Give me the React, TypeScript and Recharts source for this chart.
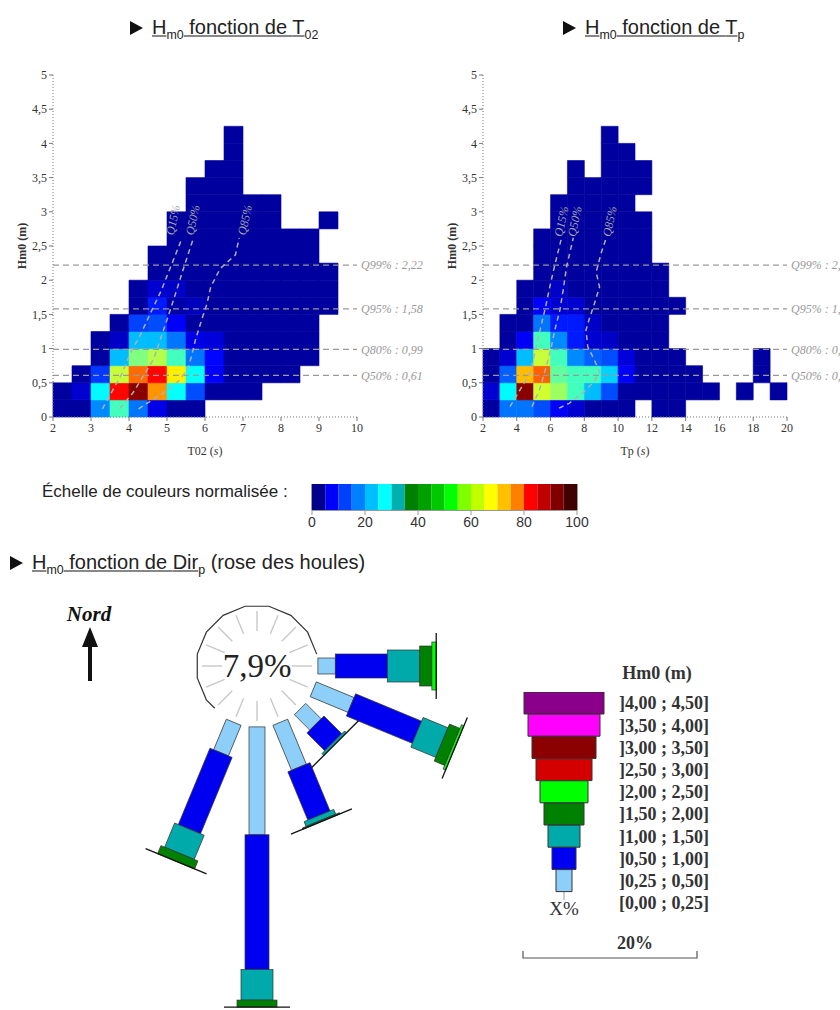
import React from "react";
import {
  ScatterChart,
  Scatter,
  XAxis,
  YAxis,
  ReferenceArea,
  ReferenceLine,
  BarChart,
  Bar,
  Cell,
} from "recharts";

const SERIF = "'Liberation Serif', 'Times New Roman', serif";
const SANS = "'Liberation Sans', Arial, sans-serif";
const _ = null;

// ---- heatmap bins (cell edges) ----
const T02_EDGES = [2, 2.5, 3, 3.5, 4, 4.5, 5, 5.5, 6, 6.5, 7, 7.5, 8, 8.5, 9, 9.5, 10];
const TP_EDGES = [2, 3, 4, 5, 6, 7, 8, 9, 10, 11, 12, 13, 14, 15, 16, 17, 18, 19, 20];
const HM0_EDGES = [0, 0.25, 0.5, 0.75, 1, 1.25, 1.5, 1.75, 2, 2.25, 2.5, 2.75, 3, 3.25, 3.5, 3.75, 4, 4.25];

const T02_TICKS = [2, 3, 4, 5, 6, 7, 8, 9, 10];
const TP_TICKS = [2, 4, 6, 8, 10, 12, 14, 16, 18, 20];
const HM0_TICKS = [0, 0.5, 1, 1.5, 2, 2.5, 3, 3.5, 4, 4.5, 5];

// normalised occurrence (0-100), one row per Hm0 bin, one column per T02 bin
const T02_GRID = [
  [3, 3, 26, 44, 24, 10, 3, 3, _, _, _, _, _, _, _, _],
  [3, 8, 37, 87, 99, 73, 38, 20, 3, 3, 3, _, _, _, _, _],
  [_, 3, 18, 57, 77, 87, 64, 38, 12, 3, 3, 3, 3, _, _, _],
  [_, _, 3, 31, 50, 55, 44, 24, 13, 3, 3, 3, 3, 3, _, _],
  [_, _, 3, 7, 31, 31, 24, 10, 9, 3, 3, 3, 3, 3, _, _],
  [_, _, _, 3, 19, 20, 12, 3, 3, 3, 3, 3, 3, 3, _, _],
  [_, _, _, _, 3, 15, 4, 6, 3, 3, 3, 3, 3, 3, 3, _],
  [_, _, _, _, 3, 8, 7, 3, 3, 3, 3, 3, 3, 3, 3, _],
  [_, _, _, _, _, 3, 3, 3, 3, 3, 3, 3, 3, 3, 3, _],
  [_, _, _, _, _, 3, 3, 3, 3, 3, 3, 3, 3, 3, _, _],
  [_, _, _, _, _, _, 3, 3, 3, 3, 3, 3, 3, 3, _, _],
  [_, _, _, _, _, _, 3, 3, 3, 3, 3, 3, _, _, 3, _],
  [_, _, _, _, _, _, _, 3, 3, 3, 3, 3, _, _, _, _],
  [_, _, _, _, _, _, _, 3, 3, 3, _, _, _, _, _, _],
  [_, _, _, _, _, _, _, _, 3, 3, _, _, _, _, _, _],
  [_, _, _, _, _, _, _, _, _, 3, _, _, _, _, _, _],
  [_, _, _, _, _, _, _, _, _, 3, _, _, _, _, _, _],
];

// same for Tp (columns 2..19 s)
const TP_GRID = [
  [3, 24, 24, 20, 12, 8, 3, 3, 3, _, 3, 3, _, _, _, _, _, _],
  [8, 37, 99, 58, 53, 44, 31, 20, 3, 3, 3, 3, 3, 3, _, 3, _, 3],
  [3, 22, 69, 78, 47, 44, 44, 33, 12, 3, 3, 3, 3, _, _, _, 3, _],
  [3, 8, 31, 57, 44, 26, 22, 20, 9, 3, 3, 3, _, _, _, _, 3, _],
  [_, 3, 12, 44, 26, 15, 8, 7, 3, 3, 3, _, _, _, _, _, _, _],
  [_, 3, 3, 24, 15, 15, 7, 3, 3, 3, 3, _, _, _, _, _, _, _],
  [_, _, 3, 12, 8, 8, 3, 3, 3, 3, 3, 3, _, _, _, _, _, _],
  [_, _, 3, 3, 7, 3, 3, 3, 3, 3, 3, _, _, _, _, _, _, _],
  [_, _, _, 3, 3, 3, 3, 3, 3, 3, 3, _, _, _, _, _, _, _],
  [_, _, _, 3, 3, 3, 3, 3, 3, 3, _, _, _, _, _, _, _, _],
  [_, _, _, 3, 3, 3, 3, 3, 3, 3, _, _, _, _, _, _, _, _],
  [_, _, _, _, 3, 3, 3, 3, 3, 3, _, _, _, _, _, _, _, _],
  [_, _, _, _, 3, 3, 3, 3, 3, _, _, _, _, _, _, _, _, _],
  [_, _, _, _, _, 3, 3, 3, 3, 3, _, _, _, _, _, _, _, _],
  [_, _, _, _, _, 3, _, 3, 3, 3, _, _, _, _, _, _, _, _],
  [_, _, _, _, _, _, _, 3, 3, _, _, _, _, _, _, _, _, _],
  [_, _, _, _, _, _, _, 3, _, _, _, _, _, _, _, _, _, _],
];

const HM0_QUANTILES = [
  { name: "Q99%", value: 2.22 },
  { name: "Q95%", value: 1.58 },
  { name: "Q80%", value: 0.99 },
  { name: "Q50%", value: 0.61 },
];

// conditional quantile curves of the period
const T02_Q15 = [
  { x: 3.3, y: 0.12 }, { x: 3.55, y: 0.37 }, { x: 3.8, y: 0.62 }, { x: 4.05, y: 0.95 },
  { x: 4.3, y: 1.2 }, { x: 4.55, y: 1.5 }, { x: 4.85, y: 1.85 }, { x: 5.1, y: 2.2 }, { x: 5.4, y: 2.62 },
];
const T02_Q50 = [
  { x: 3.75, y: 0.12 }, { x: 4.1, y: 0.35 }, { x: 4.4, y: 0.62 }, { x: 4.65, y: 0.85 },
  { x: 4.82, y: 1.13 }, { x: 5.0, y: 1.42 }, { x: 5.2, y: 1.76 }, { x: 5.45, y: 2.2 }, { x: 5.7, y: 2.62 },
];
const T02_Q85 = [
  { x: 4.25, y: 0.12 }, { x: 4.9, y: 0.35 }, { x: 5.3, y: 0.52 }, { x: 5.55, y: 0.7 },
  { x: 5.65, y: 0.9 }, { x: 5.75, y: 1.13 }, { x: 5.9, y: 1.4 }, { x: 6.05, y: 1.65 },
  { x: 6.15, y: 1.9 }, { x: 6.4, y: 2.17 }, { x: 6.8, y: 2.37 }, { x: 6.9, y: 2.62 },
];
const T02_QLABELS = [
  { x: 5.16, y: 2.88, name: "Q15%" },
  { x: 5.68, y: 2.88, name: "Q50%" },
  { x: 7.05, y: 2.88, name: "Q85%" },
];

const TP_Q15 = [
  { x: 3.6, y: 0.15 }, { x: 4.2, y: 0.4 }, { x: 4.8, y: 0.65 }, { x: 5.2, y: 1.08 },
  { x: 5.5, y: 1.4 }, { x: 5.7, y: 1.6 }, { x: 5.95, y: 1.9 }, { x: 6.25, y: 2.22 }, { x: 6.65, y: 2.62 },
];
const TP_Q50 = [
  { x: 4.9, y: 0.15 }, { x: 5.35, y: 0.4 }, { x: 5.75, y: 0.74 }, { x: 6.05, y: 1.03 },
  { x: 6.25, y: 1.27 }, { x: 6.55, y: 1.56 }, { x: 6.75, y: 1.86 }, { x: 6.95, y: 2.2 }, { x: 7.35, y: 2.62 },
];
const TP_Q85 = [
  { x: 6.5, y: 0.13 }, { x: 7.1, y: 0.2 }, { x: 7.9, y: 0.35 }, { x: 8.6, y: 0.52 },
  { x: 8.9, y: 0.66 }, { x: 8.6, y: 0.83 }, { x: 8.2, y: 1.03 }, { x: 8.1, y: 1.27 },
  { x: 8.3, y: 1.44 }, { x: 8.6, y: 1.66 }, { x: 8.9, y: 1.9 }, { x: 8.7, y: 2.12 },
  { x: 9.0, y: 2.4 }, { x: 9.3, y: 2.62 },
];
const TP_QLABELS = [
  { x: 6.64, y: 2.86, name: "Q15%" },
  { x: 7.43, y: 2.86, name: "Q50%" },
  { x: 9.5, y: 2.86, name: "Q85%" },
];

// ---- normalised colour scale ----
const SCALE_COLORS = [
  "#00008b", "#0000ff", "#0040ff", "#0080ff", "#00bfff", "#00ffff", "#00b0b0",
  "#008000", "#00a000", "#00c800", "#00ff00", "#80ff00", "#c0ff00", "#ffff00",
  "#ffc000", "#ff8000", "#ff0000", "#c00000", "#800000", "#400000",
];
const SCALE_TICKS = [0, 20, 40, 60, 80, 100];

// ---- wave rose (% of time per direction and Hm0 class) ----
const ROSE_DIRS = [90, 112.5, 135, 157.5, 180, 202.5];
const ROSE_025_050 = [2.0, 4.7, 2.5, 5.6, 12.4, 3.8];
const ROSE_050_100 = [6.0, 8.2, 2.9, 6.0, 15.5, 9.5];
const ROSE_100_150 = [3.7, 3.1, 0.3, 0.6, 3.5, 3.0];
const ROSE_150_200 = [1.4, 1.3, 0, 0.15, 0.8, 1.0];
const ROSE_200_250 = [0.5, 0.3, 0, 0, 0, 0];
const CALM_PCT = 7.9;

const LEGEND_LABELS = [
  "]4,00 ; 4,50]", "]3,50 ; 4,00]", "]3,00 ; 3,50]", "]2,50 ; 3,00]", "]2,00 ; 2,50]",
  "]1,50 ; 2,00]", "]1,00 ; 1,50]", "]0,50 ; 1,00]", "]0,25 ; 0,50]", "[0,00 ; 0,25]",
];
const LEGEND_COLORS = [
  "#8b008b", "#ff00ff", "#8b0000", "#d40000", "#00ff00",
  "#008000", "#00aaaa", "#0000f0", "#8ecffa", null,
];

const ROSE_SERIES = [ROSE_025_050, ROSE_050_100, ROSE_100_150, ROSE_150_200, ROSE_200_250];
const ROSE_COLORS = ["#8ecffa", "#0000f0", "#00aaaa", "#008000", "#00ff00"];
const ROSE_WIDTHS = [16, 24, 32, 40, 48];

const comma = (v: number) => String(v).replace(".", ",");

function jet(v: number) {
  const t = v / 100;
  const c = (x: number) => Math.round(255 * Math.max(0, Math.min(1, x)));
  return `rgb(${c(1.5 - Math.abs(4 * t - 3))},${c(1.5 - Math.abs(4 * t - 2))},${c(1.5 - Math.abs(4 * t - 1))})`;
}

const TICK = { fontFamily: SERIF, fontSize: 12, fill: "#333" };

const XTitle = (props: any) => {
  const vb = props.viewBox || { x: 53, y: 357, width: 304, height: 30 };
  return (
    <text x={vb.x + vb.width / 2} y={vb.y + 38} textAnchor="middle" fontFamily={SERIF} fontSize={12} fill="#333">
      {props.name} (<tspan fontStyle="italic">s</tspan>)
    </text>
  );
};

const YTitle = (props: any) => {
  const vb = props.viewBox || { x: 23, y: 15, width: 30, height: 342 };
  const x = vb.x + 3;
  const y = vb.y + vb.height / 2;
  return (
    <text x={x} y={y} transform={`rotate(-90 ${x} ${y})`} textAnchor="middle" fontFamily={SERIF} fontWeight="bold" fontSize={12} fill="#333">
      Hm0 (m)
    </text>
  );
};

const EmptyShape = () => <g />;

const QLabelShape = (p: any) => (
  <text
    x={p.cx}
    y={p.cy}
    transform={`rotate(-78 ${p.cx} ${p.cy})`}
    textAnchor="middle"
    dominantBaseline="central"
    fontFamily={SERIF}
    fontStyle="italic"
    fontSize={12}
    fill="#a6a6a6"
  >
    {p.payload.name}
  </text>
);

function Heatmap({ xEdges, grid, xTicks, xName, curves, labels }: any) {
  const cells: any[] = [];
  grid.forEach((row: (number | null)[], r: number) =>
    row.forEach((v, c) => {
      if (v == null) return;
      const col = jet(v);
      cells.push(
        <ReferenceArea
          key={`${r}-${c}`}
          x1={xEdges[c]}
          x2={xEdges[c + 1]}
          y1={HM0_EDGES[r]}
          y2={HM0_EDGES[r + 1]}
          fill={col}
          fillOpacity={1}
          stroke={col}
          strokeWidth={0.6}
          ifOverflow="visible"
        />
      );
    })
  );

  return (
    <ScatterChart width={430} height={410} margin={{ top: 15, right: 73, left: 23, bottom: 23 }}>
      <XAxis
        type="number"
        dataKey="x"
        domain={[xEdges[0], xEdges[xEdges.length - 1]]}
        ticks={xTicks}
        interval={0}
        allowDataOverflow
        height={30}
        tick={TICK}
        tickSize={4}
        tickLine={{ stroke: "#777" }}
        axisLine={{ stroke: "#777", strokeDasharray: "1 2" }}
        label={<XTitle name={xName} />}
      />
      <YAxis
        type="number"
        dataKey="y"
        domain={[0, 5]}
        ticks={HM0_TICKS}
        interval={0}
        allowDataOverflow
        width={30}
        tickFormatter={comma}
        tick={TICK}
        tickSize={4}
        tickLine={{ stroke: "#777" }}
        axisLine={{ stroke: "#777", strokeDasharray: "1 2" }}
        label={<YTitle />}
      />
      {cells}
      {HM0_QUANTILES.map((q) => (
        <ReferenceLine
          key={q.name}
          y={q.value}
          stroke="#9a9a9a"
          strokeWidth={1.2}
          strokeDasharray="6 4"
          ifOverflow="visible"
          label={{
            value: `${q.name} : ${q.value.toFixed(2).replace(".", ",")}`,
            position: "right",
            offset: 4,
            fill: "#999",
            fontSize: 12,
            fontStyle: "italic",
            fontFamily: SERIF,
          }}
        />
      ))}
      {curves.map((d: any, i: number) => (
        <Scatter
          key={i}
          data={d}
          line={{ stroke: "#b0b0b0", strokeWidth: 1.5, strokeDasharray: "5 4" }}
          lineType="joint"
          shape={EmptyShape}
          isAnimationActive={false}
        />
      ))}
      <Scatter data={labels} shape={QLabelShape} isAnimationActive={false} />
    </ScatterChart>
  );
}

// ---- rose geometry ----
const K = 8.7; // px per percent
const ROSE_W = 348;
const ROSE_H = 440;
const ROSE_OX = 120;
const ROSE_OY = 86;
const ROSE_INNER = 7.0; // calm circle radius, in percent units

const roseSegments = ROSE_SERIES.map((pcts, k) =>
  ROSE_DIRS.map((dir, j) => {
    let start = ROSE_INNER;
    for (let m = 0; m < k; m++) start += ROSE_SERIES[m][j];
    const len = pcts[j];
    const mid = start + len / 2;
    const a = (dir * Math.PI) / 180;
    return { x: mid * Math.sin(a), y: mid * Math.cos(a), dir, len };
  }).filter((s) => s.len > 0)
);

const roseEnds = ROSE_DIRS.map((dir, j) => {
  const r = ROSE_SERIES.reduce((s, p) => s + p[j], ROSE_INNER);
  const a = (dir * Math.PI) / 180;
  return { x: r * Math.sin(a), y: r * Math.cos(a), dir };
});

const CalmShape = (p: any) => {
  const { cx, cy } = p;
  const R = ROSE_INNER * K;
  const spokes = [];
  for (let i = 0; i < 16; i++) {
    const a = (i * 22.5 * Math.PI) / 180;
    spokes.push(
      <line
        key={i}
        x1={cx + 35 * Math.sin(a)}
        y1={cy - 35 * Math.cos(a)}
        x2={cx + 55 * Math.sin(a)}
        y2={cy - 55 * Math.cos(a)}
        stroke="#c8c8c8"
        strokeWidth={1.4}
      />
    );
  }
  const pt = (deg: number) => {
    const a = (deg * Math.PI) / 180;
    return [cx + R * Math.sin(a), cy - R * Math.cos(a)];
  };
  const v1 = pt(213.75);
  const v2 = pt(236.25);
  const pts = [[(v1[0] + v2[0]) / 2, (v1[1] + v2[1]) / 2]];
  for (let d = 236.25; d <= 360 + 78.75 + 0.01; d += 22.5) pts.push(pt(d));
  return (
    <g>
      {spokes}
      <polyline points={pts.map((q) => q.join(",")).join(" ")} fill="none" stroke="#333" strokeWidth={1.2} />
      <text x={cx} y={cy + 11} textAnchor="middle" fontFamily={SERIF} fontSize={33} fill="#222">
        {comma(CALM_PCT)}%
      </text>
    </g>
  );
};

const segShape = (k: number) => (p: any) => {
  const { cx, cy, payload } = p;
  const L = payload.len * K;
  const w = ROSE_WIDTHS[k];
  return (
    <rect
      x={cx - w / 2}
      y={cy - L / 2}
      width={w}
      height={L}
      transform={`rotate(${payload.dir} ${cx} ${cy})`}
      fill={ROSE_COLORS[k]}
      stroke="#333"
      strokeWidth={0.7}
    />
  );
};

const EndShape = (p: any) => (
  <line
    x1={p.cx - 33}
    y1={p.cy}
    x2={p.cx + 33}
    y2={p.cy}
    transform={`rotate(${p.payload.dir} ${p.cx} ${p.cy})`}
    stroke="#111"
    strokeWidth={1.3}
  />
);

function Rose() {
  return (
    <ScatterChart width={ROSE_W} height={ROSE_H} margin={{ top: 0, right: 0, bottom: 0, left: 0 }}>
      <XAxis type="number" dataKey="x" hide allowDataOverflow domain={[-ROSE_OX / K, (ROSE_W - ROSE_OX) / K]} />
      <YAxis type="number" dataKey="y" hide allowDataOverflow domain={[-(ROSE_H - ROSE_OY) / K, ROSE_OY / K]} />
      <Scatter data={[{ x: 0, y: 0 }]} shape={CalmShape} isAnimationActive={false} />
      {roseSegments.map((d, k) => (
        <Scatter key={k} data={d} shape={segShape(k)} isAnimationActive={false} />
      ))}
      <Scatter data={roseEnds} shape={EndShape} isAnimationActive={false} />
    </ScatterChart>
  );
}

function RoseLegend() {
  const rows = LEGEND_LABELS.map((label, i) => ({
    label,
    span: LEGEND_COLORS[i] ? [-(40 - 4 * i), 40 - 4 * i] : null,
  }));
  return (
    <BarChart layout="vertical" width={200} height={222} data={rows} margin={{ top: 0, right: 0, bottom: 0, left: 0 }} barCategoryGap={0}>
      <XAxis type="number" hide domain={[-41, 41]} allowDataOverflow />
      <YAxis
        type="category"
        dataKey="label"
        orientation="right"
        width={118}
        interval={0}
        tickLine={false}
        axisLine={false}
        tickMargin={8}
        tick={{ fontFamily: SERIF, fontWeight: "bold", fontSize: 18, fill: "#333" }}
      />
      <Bar dataKey="span" isAnimationActive={false} stroke="#333" strokeWidth={1}>
        {rows.map((r, i) => (
          <Cell key={i} fill={LEGEND_COLORS[i] || "none"} />
        ))}
      </Bar>
    </BarChart>
  );
}

function ColorScale() {
  const row: any = { name: "scale" };
  SCALE_COLORS.forEach((c, i) => (row[`b${i}`] = 100 / SCALE_COLORS.length));
  return (
    <BarChart layout="vertical" width={300} height={56} data={[row]} margin={{ top: 0, right: 25, bottom: 0, left: 10 }} barCategoryGap={0}>
      <XAxis
        type="number"
        domain={[0, 100]}
        ticks={SCALE_TICKS}
        interval={0}
        allowDataOverflow
        height={30}
        tickSize={5}
        tickLine={{ stroke: "#999" }}
        axisLine={false}
        tick={{ fontFamily: SANS, fontSize: 14, fill: "#333" }}
      />
      <YAxis type="category" dataKey="name" hide />
      {SCALE_COLORS.map((c, i) => (
        <Bar key={i} dataKey={`b${i}`} stackId="s" fill={c} isAnimationActive={false} />
      ))}
      <ReferenceArea x1={0} x2={100} fill="none" fillOpacity={0} stroke="#333" strokeWidth={1} ifOverflow="visible" />
    </BarChart>
  );
}

function Title({ left, top, main, sub, tail }: any) {
  return (
    <div
      style={{
        position: "absolute",
        left,
        top,
        fontFamily: SANS,
        fontSize: 20,
        color: "#222",
        whiteSpace: "nowrap",
        lineHeight: "26px",
      }}
    >
      <svg width={13} height={14} style={{ marginRight: 9, verticalAlign: "-1px" }}>
        <polygon points="0,0 13,7 0,14" fill="#111" />
      </svg>
      <span style={{ textDecoration: "underline", textDecorationColor: "#888" }}>
        H<sub style={{ fontSize: "0.62em", lineHeight: 0 }}>m0</sub> fonction de {main}
        <sub style={{ fontSize: "0.62em", lineHeight: 0 }}>{sub}</sub>
      </span>
      {tail}
    </div>
  );
}

export default function App() {
  return (
    <div
      style={{
        position: "absolute",
        left: 0,
        top: 0,
        width: 840,
        height: 1010,
        overflow: "hidden",
        background: "#fff",
      }}
    >
      <Title left={130} top={14} main="T" sub="02" />
      <Title left={563} top={14} main="T" sub="p" />

      <div style={{ position: "absolute", left: 0, top: 60 }}>
        <Heatmap xEdges={T02_EDGES} grid={T02_GRID} xTicks={T02_TICKS} xName="T02" curves={[T02_Q15, T02_Q50, T02_Q85]} labels={T02_QLABELS} />
      </div>
      <div style={{ position: "absolute", left: 430, top: 60 }}>
        <Heatmap xEdges={TP_EDGES} grid={TP_GRID} xTicks={TP_TICKS} xName="Tp" curves={[TP_Q15, TP_Q50, TP_Q85]} labels={TP_QLABELS} />
      </div>

      <div style={{ position: "absolute", left: 42, top: 482, fontFamily: SANS, fontSize: 17, color: "#222", whiteSpace: "nowrap" }}>
        Échelle de couleurs normalisée :
      </div>
      <div style={{ position: "absolute", left: 302, top: 484 }}>
        <ColorScale />
      </div>

      <Title left={10} top={549} main="Dir" sub="p" tail=" (rose des houles)" />

      <svg style={{ position: "absolute", left: 50, top: 595 }} width={80} height={95}>
        <text x={39} y={26} textAnchor="middle" fontFamily={SERIF} fontStyle="italic" fontWeight="bold" fontSize={21} fill="#111">
          Nord
        </text>
        <polygon points="40,32 32,52 48,52" fill="#111" />
        <rect x={38} y={50} width={4} height={36} fill="#111" />
      </svg>

      <div style={{ position: "absolute", left: 137, top: 580 }}>
        <Rose />
      </div>

      <svg style={{ position: "absolute", left: 500, top: 650 }} width={240} height={320}>
        <text x={157} y={29} textAnchor="middle" fontFamily={SERIF} fontWeight="bold" fontSize={18} fill="#333">
          Hm0 (m)
        </text>
        <line x1={64} y1={242} x2={64} y2={250} stroke="#999" />
        <text x={64} y={265} textAnchor="middle" fontFamily={SERIF} fontSize={19} fill="#333">
          X%
        </text>
        <text x={135} y={299} textAnchor="middle" fontFamily={SERIF} fontWeight="bold" fontSize={18} fill="#333">
          20%
        </text>
        <polyline points={`23,301 23,308 ${23 + 20 * K},308 ${23 + 20 * K},301`} fill="none" stroke="#555" strokeWidth={1.2} />
      </svg>
      <div style={{ position: "absolute", left: 523, top: 692 }}>
        <RoseLegend />
      </div>
    </div>
  );
}
